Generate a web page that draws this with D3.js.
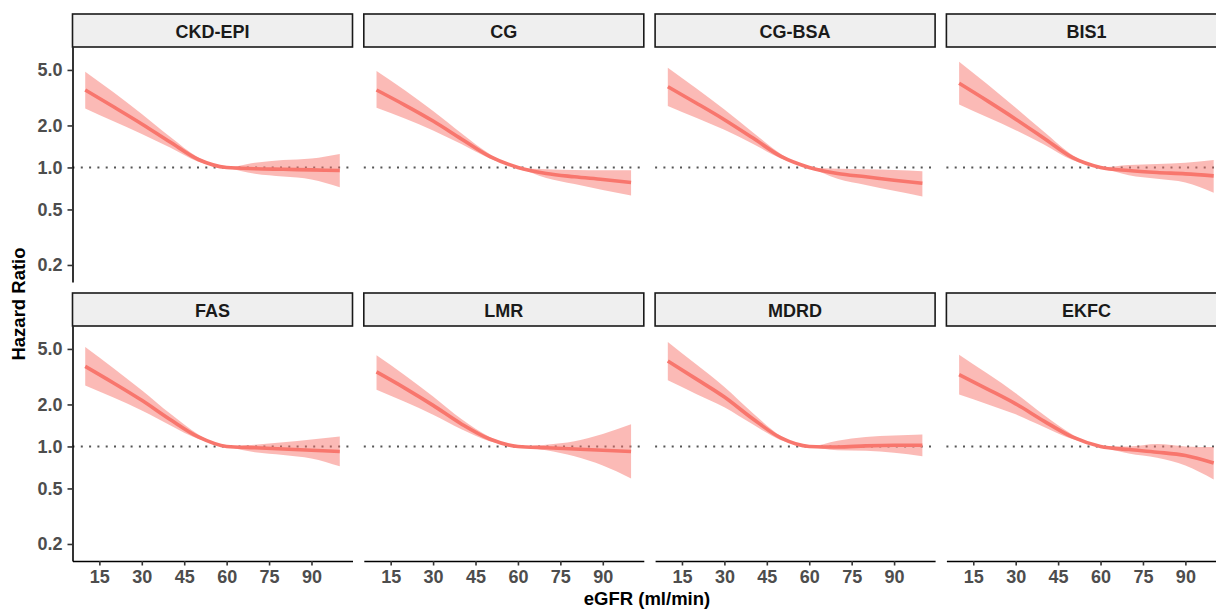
<!DOCTYPE html>
<html>
<head>
<meta charset="utf-8">
<script src="https://cdn.jsdelivr.net/npm/d3@7/dist/d3.min.js"></script>
<style>
  html, body { margin: 0; padding: 0; background: #fff; }
  svg { display: block; }
  text { font-family: "Liberation Sans", Arial, Helvetica, sans-serif; font-weight: bold; }
</style>
</head>
<body>
<svg id="chart" width="1216" height="609"></svg>
<script>
// eGFR grid (ml/min) at which the spline estimates are tabulated
const egfr = [10, 20, 30, 40, 50, 60, 70, 80, 90, 100];

// Equation names, one facet each
const equations = ["CKD-EPI", "CG", "CG-BSA", "BIS1", "FAS", "LMR", "MDRD", "EKFC"];

// Hazard ratios (reference eGFR = 60) with 95% CI bounds
const ckdEpiHR = [3.59, 2.72, 2.05, 1.52, 1.14, 1.00, 0.98, 0.97, 0.96, 0.95];
const ckdEpiLo = [2.65, 2.14, 1.74, 1.39, 1.10, 1.00, 0.90, 0.86, 0.82, 0.72];
const ckdEpiHi = [4.86, 3.46, 2.42, 1.66, 1.18, 1.00, 1.08, 1.13, 1.16, 1.25];

const cgHR = [3.59, 2.80, 2.15, 1.60, 1.20, 1.00, 0.905, 0.857, 0.82, 0.78];
const cgLo = [2.68, 2.24, 1.84, 1.47, 1.16, 1.00, 0.84, 0.76, 0.69, 0.63];
const cgHi = [4.92, 3.57, 2.54, 1.76, 1.25, 1.00, 0.97, 0.96, 0.955, 0.955];

const cgBsaHR = [3.79, 2.90, 2.20, 1.63, 1.20, 1.00, 0.905, 0.857, 0.81, 0.77];
const cgBsaLo = [2.76, 2.27, 1.86, 1.48, 1.16, 1.00, 0.83, 0.75, 0.68, 0.62];
const cgBsaHi = [5.19, 3.69, 2.60, 1.79, 1.25, 1.00, 0.98, 0.97, 0.96, 0.94];

const bis1HR = [4.01, 3.00, 2.22, 1.62, 1.18, 1.00, 0.95, 0.92, 0.90, 0.87];
const bis1Lo = [2.83, 2.29, 1.85, 1.46, 1.13, 1.00, 0.88, 0.83, 0.78, 0.66];
const bis1Hi = [5.73, 3.95, 2.68, 1.80, 1.23, 1.00, 1.04, 1.06, 1.08, 1.13];

const fasHR = [3.75, 2.85, 2.14, 1.56, 1.17, 1.00, 0.98, 0.96, 0.94, 0.92];
const fasLo = [2.74, 2.24, 1.81, 1.42, 1.13, 1.00, 0.91, 0.87, 0.82, 0.72];
const fasHi = [5.16, 3.64, 2.53, 1.72, 1.22, 1.00, 1.03, 1.07, 1.12, 1.18];

const lmrHR = [3.42, 2.62, 1.97, 1.45, 1.13, 1.00, 0.98, 0.96, 0.94, 0.92];
const lmrLo = [2.55, 2.09, 1.69, 1.33, 1.09, 1.00, 0.94, 0.85, 0.73, 0.59];
const lmrHi = [4.50, 3.24, 2.28, 1.57, 1.17, 1.00, 1.03, 1.09, 1.23, 1.44];

const mdrdHR = [4.10, 3.05, 2.26, 1.58, 1.15, 1.00, 0.99, 1.01, 1.02, 1.02];
const mdrdLo = [2.98, 2.38, 1.91, 1.44, 1.11, 1.00, 0.94, 0.93, 0.90, 0.85];
const mdrdHi = [5.61, 3.88, 2.67, 1.74, 1.19, 1.00, 1.10, 1.17, 1.20, 1.22];

const ekfcHR = [3.27, 2.58, 2.02, 1.52, 1.17, 1.00, 0.95, 0.91, 0.86, 0.76];
const ekfcLo = [2.36, 2.01, 1.70, 1.38, 1.13, 1.00, 0.89, 0.83, 0.73, 0.58];
const ekfcHi = [4.55, 3.33, 2.41, 1.68, 1.22, 1.00, 1.00, 1.04, 1.00, 0.99];

const hrSeries = [ckdEpiHR, cgHR, cgBsaHR, bis1HR, fasHR, lmrHR, mdrdHR, ekfcHR];
const loSeries = [ckdEpiLo, cgLo, cgBsaLo, bis1Lo, fasLo, lmrLo, mdrdLo, ekfcLo];
const hiSeries = [ckdEpiHi, cgHi, cgBsaHi, bis1Hi, fasHi, lmrHi, mdrdHi, ekfcHi];

// Axis ticks
const xTicks = [15, 30, 45, 60, 75, 90];
const yTicks = [0.2, 0.5, 1, 2, 5];
const yTickLabels = ["0.2", "0.5", "1.0", "2.0", "5.0"];

// Layout
const nCols = 4;
const left = 72.5, colStep = 291.3, panelW = 280;
const stripTop = 14, stripH = 33, panelH = 235, rowStep = 279;
const lineColor = "#F8766D";

const svg = d3.select("#chart");

const x = d3.scaleLinear().domain([5.5, 104.5]).range([0, panelW]);
const y = d3.scaleLog().domain([0.151, 7.3]).range([panelH, 0]);

const line = d3.line()
  .x((d, i) => x(egfr[i]))
  .y(d => y(d))
  .curve(d3.curveMonotoneX);

const area = d3.area()
  .x(d => x(d.x))
  .y0(d => y(d.lo))
  .y1(d => y(d.hi))
  .curve(d3.curveMonotoneX);

equations.forEach((name, k) => {
  const col = k % nCols, row = Math.floor(k / nCols);
  const px = left + col * colStep;
  const sy = stripTop + row * rowStep;
  const py = sy + stripH;

  // facet strip
  const strip = svg.append("g").attr("transform", `translate(${px},${sy})`);
  strip.append("rect")
    .attr("x", 0).attr("y", 0)
    .attr("width", panelW).attr("height", stripH)
    .attr("fill", "#efefef").attr("stroke", "#1a1a1a").attr("stroke-width", 1.6);
  strip.append("text")
    .attr("x", panelW / 2).attr("y", 23.8)
    .attr("text-anchor", "middle")
    .attr("font-size", 18).attr("fill", "#1a1a1a")
    .text(name);

  const g = svg.append("g").attr("transform", `translate(${px},${py})`);

  // reference line at HR = 1
  g.append("line")
    .attr("x1", 0).attr("x2", panelW)
    .attr("y1", y(1)).attr("y2", y(1))
    .attr("stroke", "#555").attr("stroke-width", 2)
    .attr("stroke-dasharray", "2,6.3");

  // confidence band
  const band = egfr.map((v, i) => ({ x: v, lo: loSeries[k][i], hi: hiSeries[k][i] }));
  g.append("path")
    .datum(band)
    .attr("d", area)
    .attr("fill", lineColor).attr("fill-opacity", 0.5);

  // hazard ratio curve
  g.append("path")
    .datum(hrSeries[k])
    .attr("d", line)
    .attr("fill", "none")
    .attr("stroke", lineColor).attr("stroke-width", 3.6);

  // y axis on the first column
  if (col === 0) {
    const ya = g.append("g")
      .call(d3.axisLeft(y).tickValues(yTicks)
        .tickFormat((d, i) => yTickLabels[i])
        .tickSize(5).tickSizeOuter(0).tickPadding(5));
    ya.select(".domain").attr("stroke", "#000").attr("stroke-width", 1.6);
    ya.selectAll(".tick line").attr("stroke", "#333").attr("stroke-width", 1.6);
    ya.selectAll(".tick text").attr("font-size", 18).attr("fill", "#4d4d4d")
      .attr("font-family", null);
  }

  // x axis on the bottom row
  if (row === 1) {
    const xa = g.append("g")
      .attr("transform", `translate(0,${panelH})`)
      .call(d3.axisBottom(x).tickValues(xTicks)
        .tickSize(4.5).tickSizeOuter(0).tickPadding(5));
    xa.select(".domain").attr("stroke", "#000").attr("stroke-width", 1.6);
    xa.selectAll(".tick line").attr("stroke", "#333").attr("stroke-width", 1.6);
    xa.selectAll(".tick text").attr("font-size", 18).attr("fill", "#4d4d4d")
      .attr("font-family", null);
  }
});

// axis titles
svg.append("text")
  .attr("x", 647).attr("y", 605)
  .attr("text-anchor", "middle")
  .attr("font-size", 18.5).attr("fill", "#000")
  .text("eGFR (ml/min)");

svg.append("text")
  .attr("transform", "translate(25,304) rotate(-90)")
  .attr("text-anchor", "middle")
  .attr("font-size", 18.5).attr("fill", "#000")
  .text("Hazard Ratio");
</script>
</body>
</html>
